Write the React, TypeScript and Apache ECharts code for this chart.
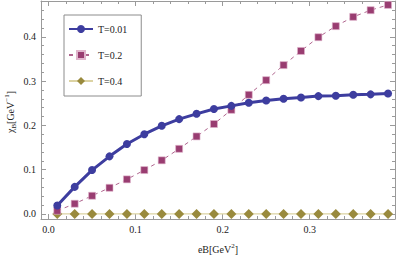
import React, { useEffect, useRef } from "react";
import * as echarts from "echarts";

const eB = [0.01, 0.03, 0.05, 0.07, 0.09, 0.11, 0.13, 0.15, 0.17, 0.19, 0.21, 0.23, 0.25, 0.27, 0.29, 0.31, 0.33, 0.35, 0.37, 0.39];
const chiT001 = [0.019, 0.061, 0.099, 0.130, 0.158, 0.180, 0.199, 0.214, 0.226, 0.237, 0.244, 0.251, 0.256, 0.260, 0.263, 0.266, 0.267, 0.269, 0.270, 0.272];
const chiT02 = [0.007, 0.023, 0.041, 0.059, 0.078, 0.099, 0.121, 0.147, 0.175, 0.203, 0.235, 0.269, 0.302, 0.336, 0.368, 0.399, 0.424, 0.445, 0.460, 0.472];
const chiT04 = [0.0, 0.0, 0.0, 0.0, 0.0, 0.0, 0.0, 0.0, 0.0, 0.0, 0.0, 0.0, 0.0, 0.0, 0.0, 0.0, 0.0, 0.0, 0.0, 0.0];
const seriesNames = ["T=0.01", "T=0.2", "T=0.4"];
const xMajor = [0, 0.1, 0.2, 0.3];
const xMinor = [0.02, 0.04, 0.06, 0.08, 0.12, 0.14, 0.16, 0.18, 0.22, 0.24, 0.26, 0.28, 0.32, 0.34, 0.36, 0.38];
const yMajor = [0, 0.1, 0.2, 0.3, 0.4];
const yMinor = [0.02, 0.04, 0.06, 0.08, 0.12, 0.14, 0.16, 0.18, 0.22, 0.24, 0.26, 0.28, 0.32, 0.34, 0.36, 0.38, 0.42, 0.44, 0.46];

const FONT = "'Liberation Serif', 'Times New Roman', serif";
const FRAME = "#9a9a9a";

function pairs(ys: number[]) {
  return eB.map((x, i) => [x, ys[i]]);
}

function makeAxis(kind: "x" | "y", position: string, ticks: number[], len: number, labels: boolean, showLine: boolean) {
  const isX = kind === "x";
  return {
    type: "value",
    position,
    min: isX ? -0.0087 : -0.0115,
    max: isX ? 0.398 : 0.4808,
    splitLine: { show: false },
    axisLine: { show: showLine, onZero: false, lineStyle: { color: FRAME, width: 1 } },
    axisTick: { show: true, inside: true, length: len, customValues: ticks, lineStyle: { color: FRAME, width: 1 } },
    axisLabel: {
      show: labels,
      customValues: ticks,
      formatter: (v: number) => v.toFixed(1),
      fontFamily: FONT,
      fontSize: 10,
      color: "#222",
      margin: 5,
    },
  };
}

export default function App() {
  const ref = useRef<HTMLDivElement>(null);
  useEffect(() => {
    document.body.style.margin = "0";
    const chart = echarts.init(ref.current!, undefined, { renderer: "svg" });
    chart.setOption({
      animation: false,
      backgroundColor: "#fff",
      textStyle: { fontFamily: FONT },
      grid: { left: 41, right: 20, top: 1, bottom: 38, containLabel: false },
      xAxis: [
        makeAxis("x", "bottom", xMajor, 5, true, true),
        makeAxis("x", "bottom", xMinor, 3, false, false),
        makeAxis("x", "top", xMajor, 5, false, true),
        makeAxis("x", "top", xMinor, 3, false, false),
      ],
      yAxis: [
        makeAxis("y", "left", yMajor, 5, true, true),
        makeAxis("y", "left", yMinor, 3, false, false),
        makeAxis("y", "right", yMajor, 5, false, true),
        makeAxis("y", "right", yMinor, 3, false, false),
      ],
      legend: {
        orient: "vertical",
        left: 64,
        top: 15,
        padding: [9, 14, 10, 4],
        itemGap: 16,
        itemWidth: 24,
        itemHeight: 10,
        borderColor: "#8c8c8c",
        borderWidth: 1,
        backgroundColor: "#fff",
        textStyle: { fontFamily: FONT, fontSize: 10, color: "#222", lineHeight: 10 },
        data: seriesNames,
      },
      series: [
        {
          name: seriesNames[0],
          type: "line",
          data: pairs(chiT001),
          symbol: "circle",
          symbolSize: 8,
          itemStyle: { color: "#3d3d9f" },
          lineStyle: { color: "#3d3d9f", width: 3 },
          z: 4,
        },
        {
          name: seriesNames[1],
          type: "line",
          data: pairs(chiT02),
          symbol: "rect",
          symbolSize: 7,
          itemStyle: { color: "#993d71", borderColor: "#e0b5cc", borderWidth: 0.6 },
          lineStyle: { color: "#b0668f", width: 1, type: [4, 4] },
          z: 3,
        },
        {
          name: seriesNames[2],
          type: "line",
          data: pairs(chiT04),
          symbol: "diamond",
          symbolSize: 10,
          itemStyle: { color: "#998a3d" },
          lineStyle: { color: "#dcd3a3", width: 1.2 },
          z: 2,
        },
      ],
      graphic: [
        {
          type: "text",
          x: 218,
          y: 249,
          style: {
            text: "eB[GeV{sup|2}]",
            fontFamily: FONT,
            fontSize: 10,
            fill: "#222",
            align: "center",
            verticalAlign: "middle",
            rich: {
              sup: { fontFamily: FONT, fontSize: 7, verticalAlign: "top", lineHeight: 14, fill: "#222" },
            },
          },
        },
        {
          type: "text",
          x: 10,
          y: 112,
          rotation: Math.PI / 2,
          style: {
            text: "χ{sub|B}[GeV{sup|−1}]",
            fontFamily: FONT,
            fontSize: 10,
            fill: "#222",
            align: "center",
            verticalAlign: "middle",
            rich: {
              sub: { fontFamily: FONT, fontSize: 7, verticalAlign: "bottom", lineHeight: 14, fill: "#222" },
              sup: { fontFamily: FONT, fontSize: 7, verticalAlign: "top", lineHeight: 14, fill: "#222" },
            },
          },
        },
      ],
    });
    return () => chart.dispose();
  }, []);
  return <div ref={ref} style={{ width: 415, height: 257 }} />;
}
